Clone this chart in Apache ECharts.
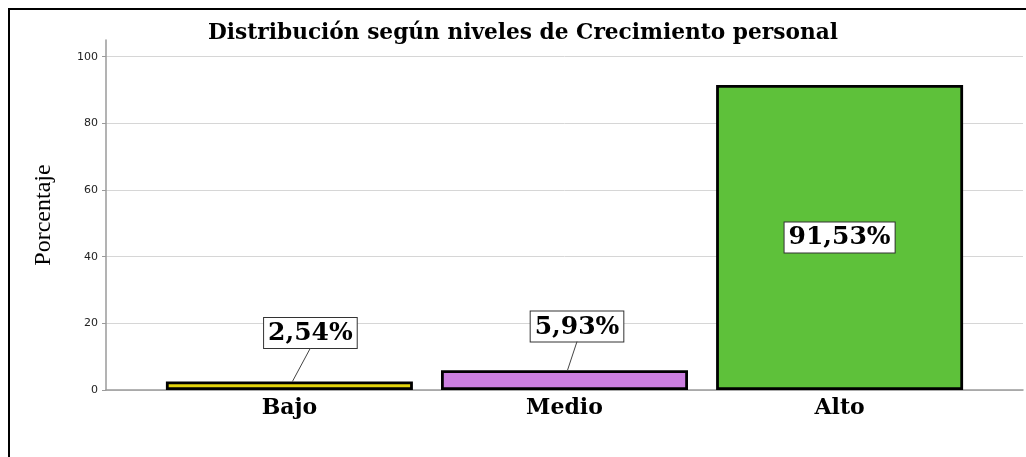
<!DOCTYPE html>
<html>
<head>
<meta charset="utf-8">
<script src="https://cdn.jsdelivr.net/npm/echarts@6/dist/echarts.min.js"></script>
<style>
html,body{margin:0;padding:0;background:#fff;}
#chart{width:1026px;height:457px;}
</style>
</head>
<body>
<div id="chart"></div>
<script>
// ---- data ----
const categories = ['Bajo', 'Medio', 'Alto'];
const percentages = [2.54, 5.93, 91.53];
const valueLabels = ['2,54%', '5,93%', '91,53%'];
const barColors = ['#E3D30C', '#CC7FE0', '#5EC13A'];
const yTicks = [0, 20, 40, 60, 80, 100];
const catPositions = [0, 1, 2];

const chart = echarts.init(document.getElementById('chart'), null, {renderer: 'canvas'});

// label offsets (px) relative to default 'top' placement; index 2 sits inside the bar
const labelShift = [[21, -28.5], [12.5, -23.7], [0, 0]];
const labelDistance = 5;

const option = {
  backgroundColor: '#fff',
  animation: false,
  title: {
    text: 'Distribución según niveles de Crecimiento personal',
    left: 518,
    textAlign: 'center',
    top: 17,
    textStyle: {
      fontFamily: 'DejaVu Serif',
      fontWeight: 'bold',
      fontSize: 21.7,
      color: '#000'
    }
  },
  graphic: [{
    type: 'rect',
    silent: true,
    shape: {x: 9, y: 9, width: 1060, height: 500},
    style: {fill: null, stroke: '#000', lineWidth: 2}
  }],
  grid: {left: 106, right: 3, top: 40, bottom: 67, containLabel: false},
  xAxis: {
    type: 'value',
    min: -2 / 3,
    max: 8 / 3,
    splitLine: {show: false},
    axisTick: {show: false},
    axisLine: {show: true, onZero: false, lineStyle: {color: '#9a9a9a', width: 1.5}},
    axisLabel: {
      customValues: catPositions,
      margin: 7,
      formatter: function (v) { return categories[Math.round(v)]; },
      fontFamily: 'DejaVu Serif',
      fontWeight: 'bold',
      fontSize: 22,
      color: '#000'
    }
  },
  yAxis: {
    type: 'value',
    min: 0,
    max: 105,
    interval: 20,
    name: 'Porcentaje',
    nameLocation: 'middle',
    nameRotate: 90,
    nameGap: 50,
    nameTextStyle: {
      fontFamily: 'Liberation Serif',
      fontSize: 24,
      color: '#000'
    },
    axisLine: {show: true, onZero: false, lineStyle: {color: '#9a9a9a', width: 1.5}},
    axisTick: {show: true, length: 4, customValues: yTicks, lineStyle: {color: '#9a9a9a'}},
    axisLabel: {
      customValues: yTicks,
      margin: 8,
      fontFamily: 'DejaVu Sans',
      fontSize: 11,
      color: '#222'
    },
    splitLine: {show: true, lineStyle: {color: '#d6d6d6', width: 1}}
  },
  series: [{
    type: 'bar',
    barWidth: 247,
    z: 2,
    data: percentages.map(function (v, i) {
      return {
        value: [catPositions[i], v],
        itemStyle: {color: barColors[i], borderColor: '#000', borderWidth: 2.8},
        label: {position: i === 2 ? 'inside' : 'top'}
      };
    }),
    label: {
      show: true,
      distance: labelDistance,
      formatter: function (p) { return valueLabels[p.dataIndex]; },
      fontFamily: 'DejaVu Serif',
      fontWeight: 'bold',
      fontSize: 25,
      color: '#000',
      backgroundColor: '#fff',
      borderColor: '#333',
      borderWidth: 1,
      padding: [3, 4, 2, 4]
    },
    labelLayout: function (p) {
      const s = labelShift[p.dataIndex];
      return {dx: s[0], dy: s[1]};
    }
  }, {
    // leader lines from the value boxes down to the bar tops
    type: 'custom',
    z: 3,
    data: percentages.map(function (v, i) { return [catPositions[i], v, i]; }),
    renderItem: function (params, api) {
      const i = api.value(2);
      if (i === 2) return null;
      const top = api.coord([api.value(0), api.value(1)]);
      const s = labelShift[i];
      return {
        type: 'line',
        shape: {
          x1: top[0] + s[0],
          y1: top[1] - labelDistance + s[1],
          x2: top[0] + 3,
          y2: top[1]
        },
        style: {stroke: '#444', lineWidth: 1}
      };
    }
  }]
};

chart.setOption(option);
</script>
</body>
</html>
